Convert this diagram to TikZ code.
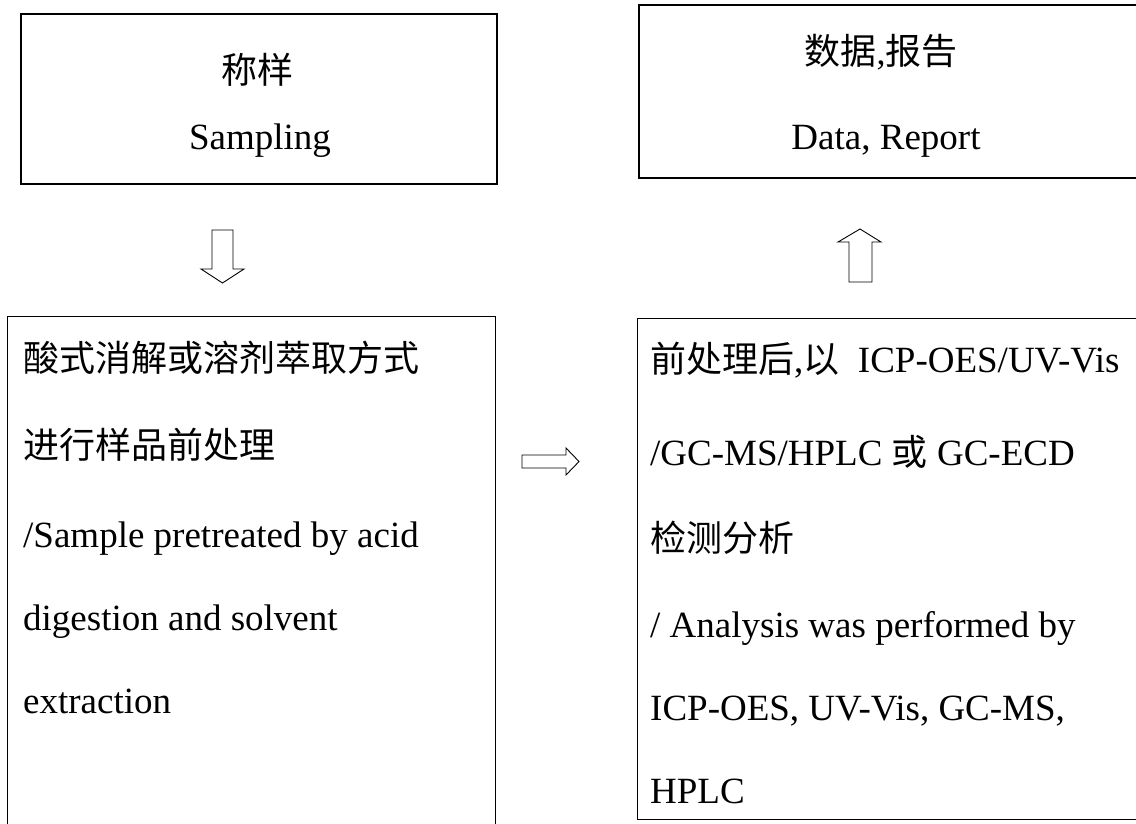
\documentclass[tikz,border=0pt]{standalone}
\usepackage{fontspec}
\setmainfont{Liberation Serif}
\newfontfamily\cjk{Noto Sans CJK SC}
\begin{document}
\begin{tikzpicture}[x=1pt,y=-1pt,
  thickbox/.style={draw, line width=2pt, rectangle, anchor=north west, inner sep=0pt, outer sep=0pt},
  thinbox/.style={draw, line width=1pt, rectangle, anchor=north west, inner sep=0pt, outer sep=0pt},
  ltxt/.style={anchor=base west, inner sep=0pt, font=\fontsize{37}{37}\selectfont},
  ctxt/.style={anchor=base, inner sep=0pt, font=\fontsize{37}{37}\selectfont},
  cj/.style={font=\fontsize{36}{36}\selectfont\cjk},
  blockarrow/.style={draw, line width=0.9pt, fill=white, line join=miter}]
\clip (0,0) rectangle (1136,823);
\fill[white] (0,0) rectangle (1136,823);

% boxes
\node[thickbox, minimum width=476pt, minimum height=170pt] (sampling) at (21,14) {};
\node[thickbox, minimum width=510pt, minimum height=173pt] (report) at (639,5) {};
\node[thinbox, minimum width=488pt, minimum height=530pt] (pretreat) at (7,316) {};
\node[thinbox, minimum width=510pt, minimum height=501pt] (analysis) at (637,318) {};

% texts of the top boxes
\node[ctxt, cj] (t1a) at (257,83) {称样};
\node[ctxt] (t1b) at (260,149) {Sampling};
\node[ctxt, cj] (t2a) at (881,64) {数据{\normalfont,}报告};
\node[ctxt] (t2b) at (886,149) {Data, Report};

% texts of the left lower box
\node[ltxt, cj] (l1) at (23,371) {酸式消解或溶剂萃取方式};
\node[ltxt, cj] (l2) at (23,458) {进行样品前处理};
\node[ltxt] (l3) at (23,547) {/Sample pretreated by acid};
\node[ltxt] (l4) at (23,630) {digestion and solvent};
\node[ltxt] (l5) at (23,713) {extraction};

% texts of the right lower box
\node[ltxt] (r1) at (650,372) {{\fontsize{36}{36}\selectfont\cjk 前处理后}\normalfont,{\fontsize{36}{36}\selectfont\cjk 以}\ \ ICP-OES/UV-Vis};
\node[ltxt] (r2) at (650,465) {/GC-MS/HPLC {\fontsize{36}{36}\selectfont\cjk 或} GC-ECD};
\node[ltxt, cj] (r3) at (650,551) {检测分析};
\node[ltxt] (r4) at (650,637) {/ Analysis was performed by};
\node[ltxt] (r5) at (650,720) {ICP-OES, UV-Vis, GC-MS,};
\node[ltxt] (r6) at (650,803) {HPLC};

% block arrows
\draw[blockarrow] (212,230) -- (233,230) -- (233,269) -- (244,269) -- (222.5,283)
  -- (201,269) -- (212,269) -- cycle;
\draw[blockarrow] (849,282) -- (872,282) -- (872,242) -- (881,242) -- (860,229)
  -- (838,242) -- (849,242) -- cycle;
\draw[blockarrow] (522,455) -- (566,455) -- (566,448) -- (579,461.5) -- (566,475)
  -- (566,468) -- (522,468) -- cycle;
\end{tikzpicture}
\end{document}
